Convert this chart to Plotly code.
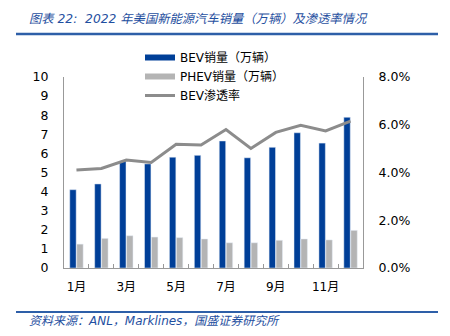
import plotly.graph_objects as go

months = ["1月", "2月", "3月", "4月", "5月", "6月", "7月", "8月", "9月", "10月", "11月", "12月"]
tick_labels = ["1月", "", "3月", "", "5月", "", "7月", "", "9月", "", "11月", ""]
bev_sales = [4.1, 4.4, 5.6, 5.45, 5.8, 5.9, 6.65, 5.77, 6.32, 7.08, 6.54, 7.89]
phev_sales = [1.25, 1.55, 1.69, 1.62, 1.59, 1.52, 1.32, 1.32, 1.45, 1.52, 1.47, 1.97]
bev_rate = [0.0410, 0.0417, 0.0452, 0.0442, 0.0518, 0.0515, 0.0580, 0.0501, 0.0568, 0.0598, 0.0574, 0.0615]

BLUE = "#003f98"
GREY_BAR = "#b4b4b4"
GREY_LINE = "#8c8c8c"
TXT_BLUE = "#1f4fa0"
FONT = "DejaVu Sans, Noto Sans CJK SC, sans-serif"

fig = go.Figure()
fig.add_trace(go.Bar(x=months, y=bev_sales, marker_color=BLUE, name="BEV销量（万辆）",
                     showlegend=False, legendgroup="bev"))
fig.add_trace(go.Bar(x=months, y=phev_sales, marker_color=GREY_BAR, name="PHEV销量（万辆）",
                     showlegend=False, legendgroup="phev"))
fig.add_trace(go.Scatter(x=months, y=bev_rate, yaxis="y2", mode="lines",
                         line=dict(color=GREY_LINE, width=3), name="BEV渗透率", showlegend=False,
                         legendgroup="rate"))
# legend entries (wide swatches like the original)
fig.add_trace(go.Scatter(x=[None], y=[None], mode="lines", line=dict(color=BLUE, width=6),
                         name="BEV销量（万辆）", legendgroup="bev"))
fig.add_trace(go.Scatter(x=[None], y=[None], mode="lines", line=dict(color=GREY_BAR, width=6),
                         name="PHEV销量（万辆）", legendgroup="phev"))
fig.add_trace(go.Scatter(x=[None], y=[None], mode="lines", line=dict(color=GREY_LINE, width=3),
                         name="BEV渗透率", legendgroup="rate"))

L, R, T, B = 64, 87, 77, 68
W, H = 450, 336
pw, ph = W - L - R, H - T - B

def px(x):
    return (x - L) / pw

def py(y):
    return (H - B - y) / ph

fig.update_layout(
    width=W, height=H,
    margin=dict(l=L, r=R, t=T, b=B),
    paper_bgcolor="white", plot_bgcolor="white",
    font=dict(family=FONT, size=12, color="#000000"),
    barmode="group", bargap=0.44, bargroupgap=0.08,
    xaxis=dict(type="category", tickvals=months, ticktext=tick_labels, tickson="boundaries",
               tickangle=0, ticks="inside", ticklen=4, tickcolor="#999999", showline=True,
               linecolor="#999999", linewidth=1, showgrid=False, ticklabelstandoff=8,
               tickfont=dict(size=12)),
    yaxis=dict(range=[0, 10], dtick=1, showline=True, linecolor="#999999", linewidth=1,
               showgrid=False, zeroline=False, ticks="", ticklabelstandoff=12,
               tickfont=dict(size=12.5)),
    yaxis2=dict(range=[0, 0.08], dtick=0.02, tickformat=".1%", overlaying="y", side="right",
                showline=True, linecolor="#999999", linewidth=1, showgrid=False, zeroline=False,
                ticks="", ticklabelstandoff=12, tickfont=dict(size=12.5)),
    legend=dict(x=px(140), y=py(43), xanchor="left", yanchor="top", bgcolor="rgba(0,0,0,0)",
                font=dict(size=12), itemwidth=30, tracegroupgap=0),
    showlegend=True,
)

fig.add_shape(type="line", xref="paper", yref="paper", x0=px(16), x1=px(438), y0=py(34), y1=py(34),
              line=dict(color="#2e5fa8", width=2.5))
fig.add_shape(type="line", xref="paper", yref="paper", x0=px(16), x1=px(438), y0=py(312), y1=py(312),
              line=dict(color="#2e5fa8", width=2))
fig.add_annotation(xref="paper", yref="paper", x=px(27), y=py(19), xanchor="left", yanchor="middle",
                   text="<i>图表 22:&nbsp; 2022 年美国新能源汽车销量（万辆）及渗透率情况</i>", showarrow=False,
                   font=dict(size=12.3, color=TXT_BLUE, family=FONT))
fig.add_annotation(xref="paper", yref="paper", x=px(27), y=py(321), xanchor="left", yanchor="middle",
                   text="<i>资料来源：ANL，Marklines，国盛证券研究所</i>", showarrow=False,
                   font=dict(size=12, color=TXT_BLUE, family=FONT))

fig.write_html("out.html")
